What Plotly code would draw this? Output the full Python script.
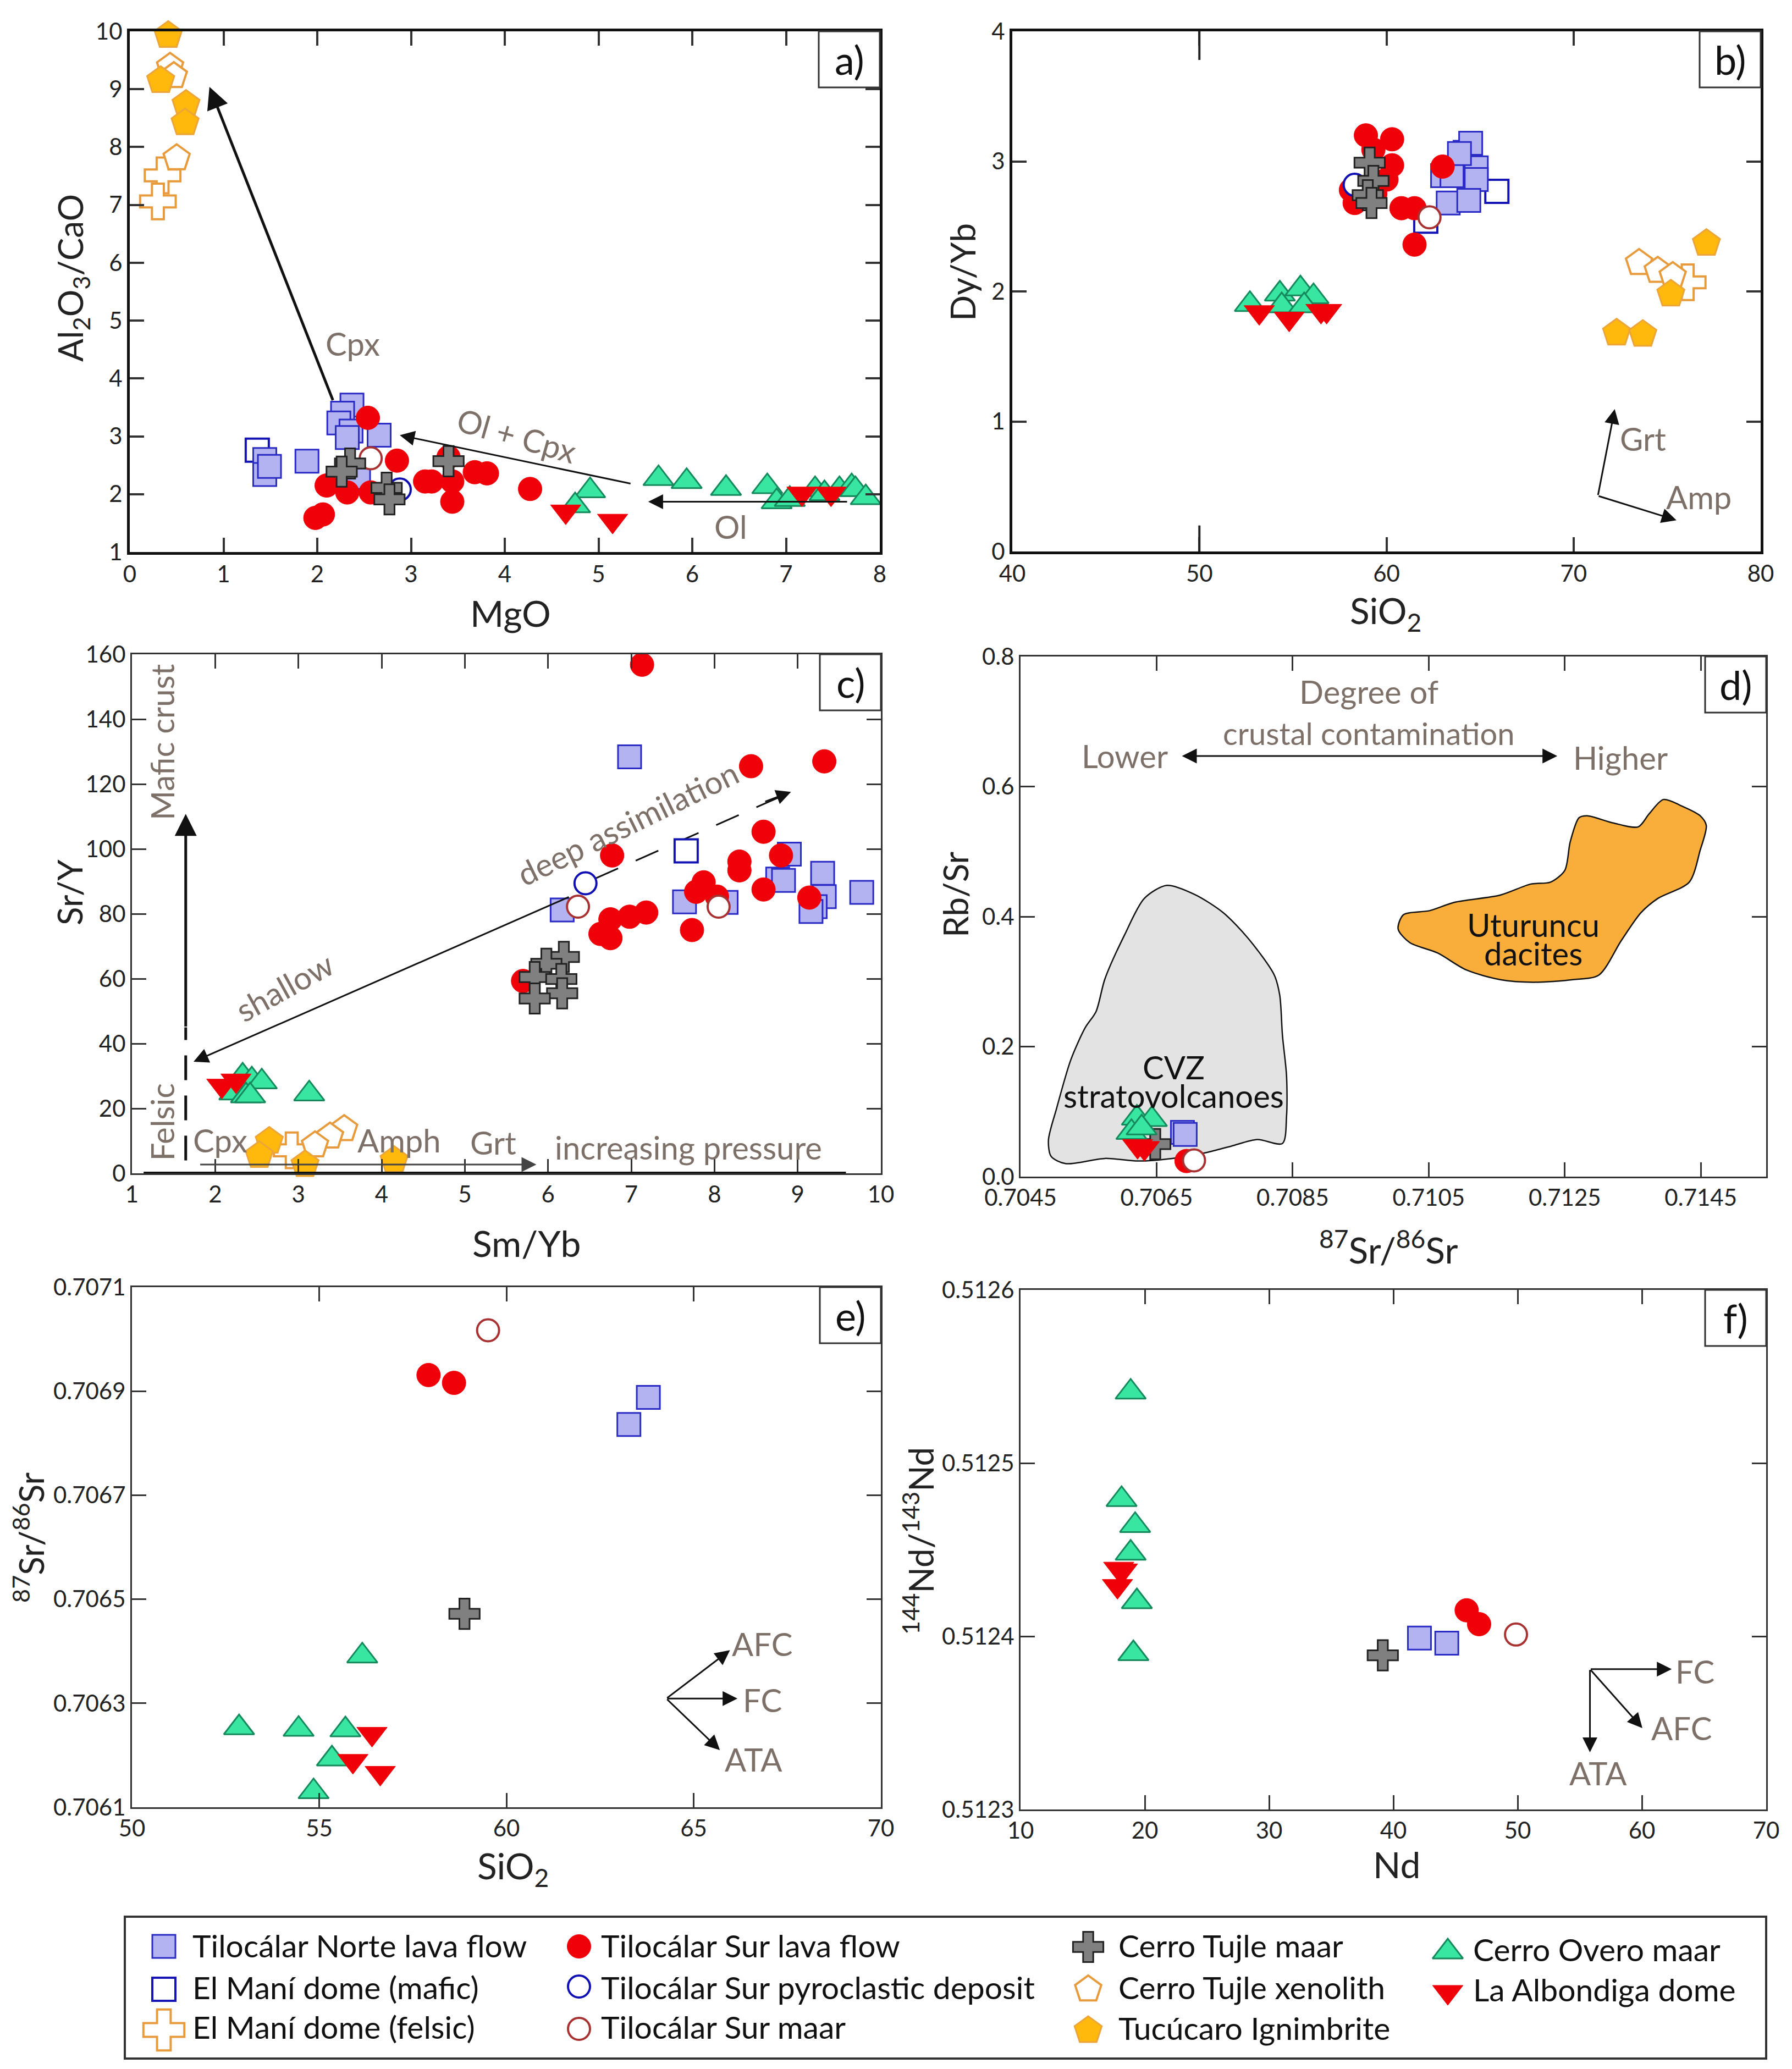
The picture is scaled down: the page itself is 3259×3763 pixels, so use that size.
import plotly.graph_objects as go

W, H = 3259, 3763
PAD = 8  # the page body's own margin
FONT = "Lato"
GREY = "#7d7068"

# ---------- panel a: MgO vs Al2O3/CaO ----------
a_norte_x = [2.37, 2.27, 2.23, 2.36, 2.32, 2.66, 1.44, 1.44, 1.49, 1.89, 2.44]
a_norte_y = [3.54, 3.40, 3.23, 3.09, 2.98, 3.02, 2.60, 2.34, 2.48, 2.57, 2.29]
a_mafic_x = [1.36]
a_mafic_y = [2.76]
a_red_x = [2.54, 2.85, 2.10, 2.32, 2.57, 1.98, 2.06, 3.15, 3.22, 3.44, 3.44, 3.68, 3.81, 4.27, 3.40]
a_red_y = [3.32, 2.58, 2.15, 2.03, 2.03, 1.59, 1.65, 2.22, 2.22, 2.22, 1.87, 2.38, 2.36, 2.09, 2.64]
a_pyro_x = [2.88]
a_pyro_y = [2.08]
a_maar_x = [2.57]
a_maar_y = [2.62]
a_cross_x = [2.35, 2.26, 3.40, 2.74, 2.77]
a_cross_y = [2.53, 2.39, 2.57, 2.11, 1.91]
a_xeno_x = [0.43, 0.47, 0.50]
a_xeno_y = [9.39, 9.23, 7.81]
a_felsic_x = [0.35, 0.30]
a_felsic_y = [7.51, 7.06]
a_tucu_x = [0.41, 0.33, 0.60, 0.59]
a_tucu_y = [9.93, 9.15, 8.74, 8.42]
a_green_x = [4.91, 4.75, 5.64, 5.94, 6.36, 6.80, 6.90, 7.04, 7.31, 7.41, 7.57, 7.70, 7.74, 7.85]
a_green_y = [2.06, 1.80, 2.27, 2.22, 2.10, 2.13, 1.87, 1.91, 2.08, 2.01, 2.08, 2.13, 2.08, 1.94]
a_tri_x = [4.65, 5.15, 7.17, 7.48]
a_tri_y = [1.70, 1.54, 2.01, 2.01]

# ---------- panel b: SiO2 vs Dy/Yb ----------
b_norte_x = [64.2, 64.5, 63.0, 64.8, 64.8, 63.3, 64.4, 63.5, 63.9]
b_norte_y = [3.07, 3.14, 2.89, 2.95, 2.86, 2.68, 2.70, 2.89, 3.06]
b_mafic_x = [65.9, 62.1]
b_mafic_y = [2.77, 2.54]
b_red_x = [58.9, 60.3, 59.3, 60.3, 60.0, 63.0, 58.1, 58.3, 60.8, 61.5, 61.5, 59.4]
b_red_y = [3.20, 3.17, 3.09, 2.97, 2.86, 2.96, 2.78, 2.68, 2.64, 2.64, 2.36, 2.75]
b_pyro_x = [58.3]
b_pyro_y = [2.82]
b_maar_x = [62.3]
b_maar_y = [2.57]
b_cross_x = [59.1, 59.3, 59.0, 59.2]
b_cross_y = [2.99, 2.85, 2.74, 2.68]
b_xeno_x = [73.5, 74.5, 75.3]
b_xeno_y = [2.22, 2.16, 2.12]
b_felsic_x = [76.1]
b_felsic_y = [2.07]
b_tucu_x = [77.1, 75.2, 72.3, 73.7]
b_tucu_y = [2.37, 1.98, 1.68, 1.67]
b_green_x = [52.7, 54.3, 54.4, 55.4, 56.1, 55.6]
b_green_y = [1.90, 1.98, 1.89, 2.02, 1.96, 1.89]
b_tri_x = [53.2, 54.8, 56.5, 56.8]
b_tri_y = [1.84, 1.79, 1.85, 1.85]

# ---------- panel c: Sm/Yb vs Sr/Y ----------
c_norte_x = [6.98, 6.17, 7.64, 8.14, 8.76, 8.83, 8.90, 9.30, 9.32, 9.21, 9.16, 9.77]
c_norte_y = [128.4, 81.2, 83.7, 83.5, 90.7, 90.3, 98.4, 92.5, 85.3, 82.2, 80.7, 86.6]
c_mafic_x = [7.66]
c_mafic_y = [99.4]
c_red_x = [7.13, 8.44, 9.32, 8.59, 6.77, 8.80, 8.30, 8.30, 7.87, 7.78, 8.59, 8.03, 9.14, 7.18, 6.98, 6.75, 7.73, 6.63, 6.75, 5.70]
c_red_y = [156.8, 125.5, 127.0, 105.3, 98.0, 98.0, 96.1, 93.4, 89.7, 86.8, 87.5, 85.3, 85.0, 80.4, 79.1, 78.3, 75.0, 73.8, 72.5, 59.3]
c_pyro_x = [6.45]
c_pyro_y = [89.4]
c_maar_x = [6.36, 8.05]
c_maar_y = [82.2, 82.2]
c_cross_x = [6.19, 5.98, 5.84, 6.16, 6.17, 5.84]
c_cross_y = [66.7, 64.6, 60.5, 59.9, 55.5, 53.9]
c_xeno_x = [3.55, 3.38, 3.20]
c_xeno_y = [13.7, 11.4, 8.7]
c_felsic_x = [2.92]
c_felsic_y = [7.1]
c_tucu_x = [2.65, 2.53, 3.08, 4.15]
c_tucu_y = [9.9, 5.5, 2.7, 4.0]
c_green_x = [2.33, 2.44, 2.56, 2.23, 2.37, 2.42, 3.13]
c_green_y = [30.0, 28.8, 28.2, 24.8, 23.9, 23.9, 24.5]
c_tri_x = [2.08, 2.25]
c_tri_y = [27.0, 28.6]

# ---------- panel d: 87Sr/86Sr vs Rb/Sr ----------
d_norte_x = [0.70688, 0.70692]
d_norte_y = [0.068, 0.065]
d_red_x = [0.70694]
d_red_y = [0.024]
d_maar_x = [0.70705]
d_maar_y = [0.025]
d_cross_x = [0.70648]
d_cross_y = [0.050]
d_green_x = [0.70621, 0.70643, 0.70613, 0.70628]
d_green_y = [0.090, 0.088, 0.068, 0.075]
d_tri_x = [0.70622, 0.70632]
d_tri_y = [0.047, 0.044]
cvz_x = [0.70665, 0.70706, 0.70748, 0.70785, 0.70823, 0.70831, 0.70835, 0.70841, 0.70841, 0.70835,
         0.70798, 0.70760, 0.70723, 0.70673, 0.70623, 0.70574, 0.70516, 0.70495, 0.70491, 0.70503,
         0.70524, 0.70545, 0.70561, 0.70574, 0.70603, 0.70632, 0.70665]
cvz_y = [0.448, 0.434, 0.406, 0.366, 0.310, 0.279, 0.217, 0.155, 0.093, 0.051,
         0.057, 0.047, 0.037, 0.028, 0.024, 0.028, 0.020, 0.031, 0.056, 0.105,
         0.180, 0.229, 0.254, 0.304, 0.372, 0.428, 0.448]
utu_x = [0.71395, 0.71424, 0.71449, 0.71458, 0.71449, 0.71433, 0.71387, 0.71362, 0.71333, 0.71300, 0.71262,
         0.71204, 0.71155, 0.71105, 0.71063, 0.71022, 0.71005, 0.71013, 0.71051, 0.71088, 0.71155, 0.71200,
         0.71229, 0.71250, 0.71258, 0.71271, 0.71283, 0.71321, 0.71358, 0.71374, 0.71395]
utu_y = [0.580, 0.569, 0.555, 0.540, 0.502, 0.453, 0.428, 0.406, 0.363, 0.310, 0.303,
         0.299, 0.303, 0.318, 0.344, 0.360, 0.381, 0.403, 0.409, 0.422, 0.433, 0.450,
         0.453, 0.471, 0.515, 0.552, 0.555, 0.544, 0.538, 0.558, 0.580]

# ---------- panel e: SiO2 vs 87Sr/86Sr ----------
e_norte_x = [63.79, 63.27]
e_norte_y = [0.706888, 0.706836]
e_red_x = [57.92, 58.60]
e_red_y = [0.706931, 0.706916]
e_maar_x = [59.51]
e_maar_y = [0.707017]
e_cross_x = [58.88]
e_cross_y = [0.706472]
e_green_x = [56.15, 52.86, 54.45, 55.70, 55.34, 54.85]
e_green_y = [0.706391, 0.706253, 0.706250, 0.706249, 0.706193, 0.706130]
e_tri_x = [56.41, 55.90, 56.63]
e_tri_y = [0.706241, 0.706189, 0.706166]

# ---------- panel f: Nd vs 144Nd/143Nd ----------
f_norte_x = [42.1, 44.3]
f_norte_y = [0.512399, 0.512396]
f_red_x = [45.9, 46.9]
f_red_y = [0.512415, 0.512407]
f_maar_x = [49.87]
f_maar_y = [0.512401]
f_cross_x = [39.15]
f_cross_y = [0.512389]
f_green_x = [18.86, 18.13, 19.22, 18.86, 19.36, 19.08]
f_green_y = [0.512541, 0.512479, 0.512464, 0.512448, 0.512420, 0.512390]
f_tri_x = [17.9, 17.8, 18.2]
f_tri_y = [0.512439, 0.512429, 0.512438]

legend_labels = ["Tilocálar Norte lava flow", "El Maní dome (mafic)", "El Maní dome (felsic)",
                 "Tilocálar Sur lava flow", "Tilocálar Sur pyroclastic deposit", "Tilocálar Sur maar",
                 "Cerro Tujle maar", "Cerro Tujle xenolith", "Tucúcaro Ignimbrite",
                 "Cerro Overo maar", "La Albondiga dome"]
legend_keys = ["norte", "mafic", "felsic", "red", "pyro", "maar", "cross", "xeno", "tucu", "green", "tri"]

STYLE = {
    "norte": dict(symbol="square", size=42, color="#b3b3f2", line=dict(color="#2a2ac4", width=3)),
    "mafic": dict(symbol="square", size=42, color="#ffffff", line=dict(color="#1414b4", width=4)),
    "red": dict(symbol="circle", size=43, color="#f00008", line=dict(color="#f00008", width=1)),
    "pyro": dict(symbol="circle", size=40, color="#ffffff", line=dict(color="#0f0fb4", width=4)),
    "maar": dict(symbol="circle", size=40, color="#ffffff", line=dict(color="#a83232", width=4)),
    "cross": dict(symbol="cross", size=46, color="#808080", line=dict(color="#222222", width=3)),
    "xeno": dict(symbol="pentagon", size=50, color="#ffffff", line=dict(color="#e89b3c", width=4)),
    "felsic": dict(symbol="cross", size=54, color="#ffffff", line=dict(color="#e89b3c", width=4)),
    "tucu": dict(symbol="pentagon", size=52, color="#ffb80c", line=dict(color="#eca53a", width=3)),
    "green": dict(symbol="triangle-up", size=48, color="#38e6a2", line=dict(color="#15885c", width=3)),
    "tri": dict(symbol="triangle-down", size=48, color="#f00008", line=dict(color="#f00008", width=1)),
}
NAMES = dict(zip(legend_keys, legend_labels))
ORDER = ["mafic", "norte", "red", "pyro", "maar", "cross", "felsic", "xeno", "tucu", "green", "tri"]

panels = [
    ("", {"norte": (a_norte_x, a_norte_y), "mafic": (a_mafic_x, a_mafic_y), "red": (a_red_x, a_red_y),
          "pyro": (a_pyro_x, a_pyro_y), "maar": (a_maar_x, a_maar_y), "cross": (a_cross_x, a_cross_y),
          "xeno": (a_xeno_x, a_xeno_y), "felsic": (a_felsic_x, a_felsic_y), "tucu": (a_tucu_x, a_tucu_y),
          "green": (a_green_x, a_green_y), "tri": (a_tri_x, a_tri_y)}),
    ("2", {"norte": (b_norte_x, b_norte_y), "mafic": (b_mafic_x, b_mafic_y), "red": (b_red_x, b_red_y),
           "pyro": (b_pyro_x, b_pyro_y), "maar": (b_maar_x, b_maar_y), "cross": (b_cross_x, b_cross_y),
           "xeno": (b_xeno_x, b_xeno_y), "felsic": (b_felsic_x, b_felsic_y), "tucu": (b_tucu_x, b_tucu_y),
           "green": (b_green_x, b_green_y), "tri": (b_tri_x, b_tri_y)}),
    ("3", {"norte": (c_norte_x, c_norte_y), "mafic": (c_mafic_x, c_mafic_y), "red": (c_red_x, c_red_y),
           "pyro": (c_pyro_x, c_pyro_y), "maar": (c_maar_x, c_maar_y), "cross": (c_cross_x, c_cross_y),
           "xeno": (c_xeno_x, c_xeno_y), "felsic": (c_felsic_x, c_felsic_y), "tucu": (c_tucu_x, c_tucu_y),
           "green": (c_green_x, c_green_y), "tri": (c_tri_x, c_tri_y)}),
    ("4", {"norte": (d_norte_x, d_norte_y), "red": (d_red_x, d_red_y), "maar": (d_maar_x, d_maar_y),
           "cross": (d_cross_x, d_cross_y), "green": (d_green_x, d_green_y), "tri": (d_tri_x, d_tri_y)}),
    ("5", {"norte": (e_norte_x, e_norte_y), "red": (e_red_x, e_red_y), "maar": (e_maar_x, e_maar_y),
           "cross": (e_cross_x, e_cross_y), "green": (e_green_x, e_green_y), "tri": (e_tri_x, e_tri_y)}),
    ("6", {"norte": (f_norte_x, f_norte_y), "red": (f_red_x, f_red_y), "maar": (f_maar_x, f_maar_y),
           "cross": (f_cross_x, f_cross_y), "green": (f_green_x, f_green_y), "tri": (f_tri_x, f_tri_y)}),
]


def px_x(p):
    return (p - PAD) / W


def px_y(p):
    return 1 - (p - PAD) / H


# frame pixels: left, right, top, bottom
frames = {"": (236, 1600, 57, 1004), "2": (1841, 3202, 57, 1003), "3": (240, 1602, 1190, 2134),
          "4": (1856, 3212, 1194, 2140), "5": (240, 1602, 2341, 3287), "6": (1856, 3212, 2346, 3291)}
axis_cfg = {
    "": dict(xr=[0, 8], yr=[1, 10], xd=1, yd=1, xt="MgO", yt="Al<sub>2</sub>O<sub>3</sub>/CaO", lw=5, tag="a)", xfmt="d", yfmt="d",
             xc=(928, 1114), yc=(131, 506)),
    "2": dict(xr=[40, 80], yr=[0, 4], xd=10, yd=1, xt="SiO<sub>2</sub>", yt="Dy/Yb", lw=5, tag="b)", xfmt="d", yfmt="d",
              xc=(2520, 1114), yc=(1750, 495)),
    "3": dict(xr=[1, 10], yr=[0, 160], xd=1, yd=20, xt="Sm/Yb", yt="Sr/Y", lw=3, tag="c)", xfmt="d", yfmt="d",
              xc=(957, 2260), yc=(126, 1623)),
    "4": dict(xr=[0.7045, 0.71546], yr=[0, 0.8], xd=0.002, yd=0.2, xt="<sup>87</sup>Sr/<sup>86</sup>Sr", yt="Rb/Sr", lw=3, tag="d)",
              xfmt=".4f", yfmt=".1f", xc=(2525, 2268), yc=(1737, 1626)),
    "5": dict(xr=[50, 70], yr=[0.7061, 0.7071], xd=5, yd=0.0002, xt="SiO<sub>2</sub>", yt="<sup>87</sup>Sr/<sup>86</sup>Sr", lw=3, tag="e)",
              xfmt="d", yfmt=".4f", xc=(933, 3397), yc=(52, 2796)),
    "6": dict(xr=[10, 70], yr=[0.5123, 0.5126], xd=10, yd=0.0001, xt="Nd", yt="<sup>144</sup>Nd/<sup>143</sup>Nd", lw=3, tag="f)",
              xfmt="d", yfmt=".4f", xc=(2540, 3390), yc=(1670, 2803)),
}

fig = go.Figure()
layout = {}
shapes = []
annots = []

for key, series in panels:
    l, r, t, b = frames[key]
    c = axis_cfg[key]
    xn, yn = "x" + key, "y" + key
    lw = c["lw"]
    col = "#111111" if lw > 3 else "#333333"
    common = dict(showline=True, mirror="allticks", linecolor=col, linewidth=lw, ticks="inside", ticklen=26,
                  tickwidth=4 if lw > 3 else 3, tickcolor="#333333", showgrid=False, zeroline=False, automargin=False,
                  tickfont=dict(family=FONT, size=42, color="#222222"))
    layout["xaxis" + key] = dict(common, domain=[px_x(l), px_x(r)], range=c["xr"], dtick=c["xd"], tick0=c["xr"][0],
                                 tickformat=c["xfmt"], anchor=yn)
    layout["yaxis" + key] = dict(common, domain=[px_y(b), px_y(t)], range=c["yr"], dtick=c["yd"], tick0=c["yr"][0],
                                 tickformat=c["yfmt"], anchor=xn)
    annots.append(dict(xref="paper", yref="paper", x=px_x(c["xc"][0]), y=px_y(c["xc"][1]), text=c["xt"], showarrow=False,
                       font=dict(family=FONT, size=66, color="#222222"), xanchor="center", yanchor="middle"))
    annots.append(dict(xref="paper", yref="paper", x=px_x(c["yc"][0]), y=px_y(c["yc"][1]), text=c["yt"], showarrow=False, textangle=-90,
                       font=dict(family=FONT, size=62, color="#222222"), xanchor="center", yanchor="middle"))
    bw, bh = 111 / (r - l), 102 / (b - t)
    shapes.append(dict(type="rect", xref=xn + " domain", yref=yn + " domain", x0=1 - bw, x1=1, y0=1 - bh, y1=1,
                       fillcolor="white", line=dict(color="#333333", width=3), layer="above"))
    annots.append(dict(xref=xn + " domain", yref=yn + " domain", x=1 - bw / 2, y=1 - bh / 2, text=c["tag"], showarrow=False,
                       font=dict(family=FONT, size=72, color="#111111"), xanchor="center", yanchor="middle"))
    if key == "4":
        fig.add_trace(go.Scatter(x=cvz_x, y=cvz_y, xaxis=xn, yaxis=yn, mode="lines", name="CVZ stratovolcanoes", fill="toself",
                                 fillcolor="#e3e3e3", line=dict(color="#111111", width=2.5, shape="spline", smoothing=0.8), showlegend=False))
        fig.add_trace(go.Scatter(x=utu_x, y=utu_y, xaxis=xn, yaxis=yn, mode="lines", name="Uturuncu dacites", fill="toself",
                                 fillcolor="#f9ad3b", line=dict(color="#111111", width=2.5, shape="spline", smoothing=0.8), showlegend=False))
    for s in ORDER:
        if s in series:
            fig.add_trace(go.Scatter(x=series[s][0], y=series[s][1], xaxis=xn, yaxis=yn, mode="markers", name=NAMES[s],
                                     marker=STYLE[s], showlegend=False, cliponaxis=False))


def arrow(k, x0, y0, x1, y1, width=3, color="#111111", size=1.6, side="end"):
    annots.append(dict(xref="x" + k, yref="y" + k, axref="x" + k, ayref="y" + k, x=x1, y=y1, ax=x0, ay=y0, text="",
                       showarrow=True, arrowhead=2, arrowsize=size, arrowwidth=width, arrowcolor=color, arrowside=side))


def note(k, x, y, text, rot=0, size=58, color=GREY):
    annots.append(dict(xref="x" + k, yref="y" + k, x=x, y=y, text=text, textangle=rot, showarrow=False,
                       font=dict(family=FONT, size=size, color=color), xanchor="center", yanchor="middle"))


# panel a notes
arrow("", 2.17, 3.61, 0.85, 9.04, width=5, size=1.6)
arrow("", 5.35, 2.18, 2.88, 3.02, width=3, size=1.8)
arrow("", 7.66, 1.87, 5.53, 1.87, width=3, size=1.8)
note("", 2.38, 4.61, "Cpx")
note("", 4.13, 3.02, "Ol + Cpx", rot=16)
note("", 6.41, 1.44, "Ol")
# panel b notes
arrow("2", 71.3, 0.428, 72.2, 1.095, width=3, size=1.8)
arrow("2", 71.3, 0.428, 75.5, 0.24, width=3, size=1.8)
shapes.append(dict(type="line", xref="x2", yref="y2", x0=50, x1=50, y0=4, y1=3.78, line=dict(color="#222222", width=4)))
shapes.append(dict(type="line", xref="x2", yref="y2", x0=50, x1=50, y0=0, y1=0.2, line=dict(color="#222222", width=4)))
note("2", 73.7, 0.87, "Grt")
note("2", 76.7, 0.42, "Amp")
# panel c notes
arrow("3", 1.646, 45, 1.646, 110.8, width=5, size=1.6)
arrow("3", 6.26, 85.3, 1.74, 34.4, width=3, size=1.8)
arrow("3", 8.6, 114.5, 8.92, 117.6, width=3, size=1.8)
arrow("3", 1.81, 2.7, 5.86, 2.7, width=3, color="#444444", size=1.8)
shapes.append(dict(type="line", xref="x3", yref="y3", x0=1.646, x1=1.646, y0=4, y1=45, layer="below",
                   line=dict(color="#111111", width=5, dash="45px,28px")))
shapes.append(dict(type="line", xref="x3", yref="y3", x0=6.57, x1=8.8, y0=90.9, y1=116.2, layer="below",
                   line=dict(color="#111111", width=3, dash="45px,35px")))
shapes.append(dict(type="line", xref="x3", yref="y3", x0=1.14, x1=9.58, y0=0, y1=0, layer="above",
                   line=dict(color="#111111", width=6)))
note("3", 1.36, 133, "Mafic crust", rot=-90)
note("3", 1.36, 15.8, "Felsic", rot=-90)
note("3", 2.06, 10.2, "Cpx")
note("3", 4.21, 10.2, "Amph")
note("3", 5.34, 9.6, "Grt")
note("3", 7.69, 8, "increasing pressure")
note("3", 2.83, 57.6, "shallow", rot=-29)
note("3", 6.96, 108, "deep assimilation", rot=-26)
# panel d notes
arrow("4", 0.70686, 0.647, 0.71239, 0.647, width=3, size=1.8, side="end+start")
note("4", 0.70962, 0.746, "Degree of")
note("4", 0.70962, 0.682, "crustal contamination", size=56)
note("4", 0.70603, 0.647, "Lower")
note("4", 0.71332, 0.645, "Higher")
note("4", 0.71204, 0.388, "Uturuncu", color="#111111")
note("4", 0.71204, 0.344, "dacites", color="#111111")
note("4", 0.70675, 0.169, "CVZ", color="#111111")
note("4", 0.70675, 0.125, "stratovolcanoes", color="#111111")
# panel e notes
arrow("5", 64.27, 0.706309, 65.97, 0.706402, width=3, size=1.8)
arrow("5", 64.27, 0.706309, 66.17, 0.706309, width=3, size=1.8)
arrow("5", 64.27, 0.706309, 65.7, 0.70621, width=3, size=1.8)
note("5", 66.83, 0.706415, "AFC")
note("5", 66.83, 0.706307, "FC")
note("5", 66.6, 0.706193, "ATA")
# panel f notes
arrow("6", 55.82, 0.512381, 62.4, 0.512381, width=3, size=1.8)
arrow("6", 55.82, 0.512381, 60.04, 0.512347, width=3, size=1.8)
arrow("6", 55.82, 0.512381, 55.82, 0.512333, width=3, size=1.8)
note("6", 64.27, 0.51238, "FC")
note("6", 63.2, 0.512347, "AFC")
note("6", 56.5, 0.512321, "ATA")

# legend panel drawn with real markers and text, on axes measured in page pixels
leg_l, leg_r, leg_t, leg_b = 229, 3210, 3488, 3742
leg_pos = {"norte": (298, 3540), "mafic": (298, 3618), "felsic": (298, 3692),
           "red": (1053, 3540), "pyro": (1053, 3613), "maar": (1053, 3690),
           "cross": (1979, 3541), "xeno": (1979, 3618), "tucu": (1979, 3693),
           "green": (2633, 3550), "tri": (2633, 3623)}
leg_text_y = {"norte": 3546, "mafic": 3622, "felsic": 3694, "red": 3546, "pyro": 3622, "maar": 3694,
              "cross": 3546, "xeno": 3622, "tucu": 3696, "green": 3553, "tri": 3626}
leg_text_x = {"norte": 350, "mafic": 350, "felsic": 350, "red": 1093, "pyro": 1093, "maar": 1093,
              "cross": 2034, "xeno": 2034, "tucu": 2034, "green": 2679, "tri": 2679}
layout["xaxis7"] = dict(domain=[px_x(leg_l), px_x(leg_r)], range=[leg_l, leg_r], showticklabels=False, ticks="", showgrid=False,
                        zeroline=False, showline=True, mirror=True, linecolor="#333333", linewidth=4, anchor="y7", automargin=False)
layout["yaxis7"] = dict(domain=[px_y(leg_b), px_y(leg_t)], range=[leg_b, leg_t], showticklabels=False, ticks="", showgrid=False,
                        zeroline=False, showline=True, mirror=True, linecolor="#333333", linewidth=4, anchor="x7", automargin=False)
for s, lab in zip(legend_keys, legend_labels):
    m = dict(STYLE[s])
    if s == "felsic":
        m["size"] = 62
    fig.add_trace(go.Scatter(x=[leg_pos[s][0]], y=[leg_pos[s][1]], xaxis="x7", yaxis="y7", mode="markers", name=lab,
                             marker=m, showlegend=False))
    fig.add_trace(go.Scatter(x=[leg_text_x[s]], y=[leg_text_y[s]], xaxis="x7", yaxis="y7", mode="text", name=lab,
                             text=[lab], textposition="middle right", showlegend=False,
                             textfont=dict(family=FONT, size=57, color="#111111")))

fig.update_layout(width=W, height=H, margin=dict(l=0, r=0, t=0, b=0), paper_bgcolor="white", plot_bgcolor="white",
                  showlegend=False, shapes=shapes, annotations=annots, **layout)
fig.write_html("out.html")
